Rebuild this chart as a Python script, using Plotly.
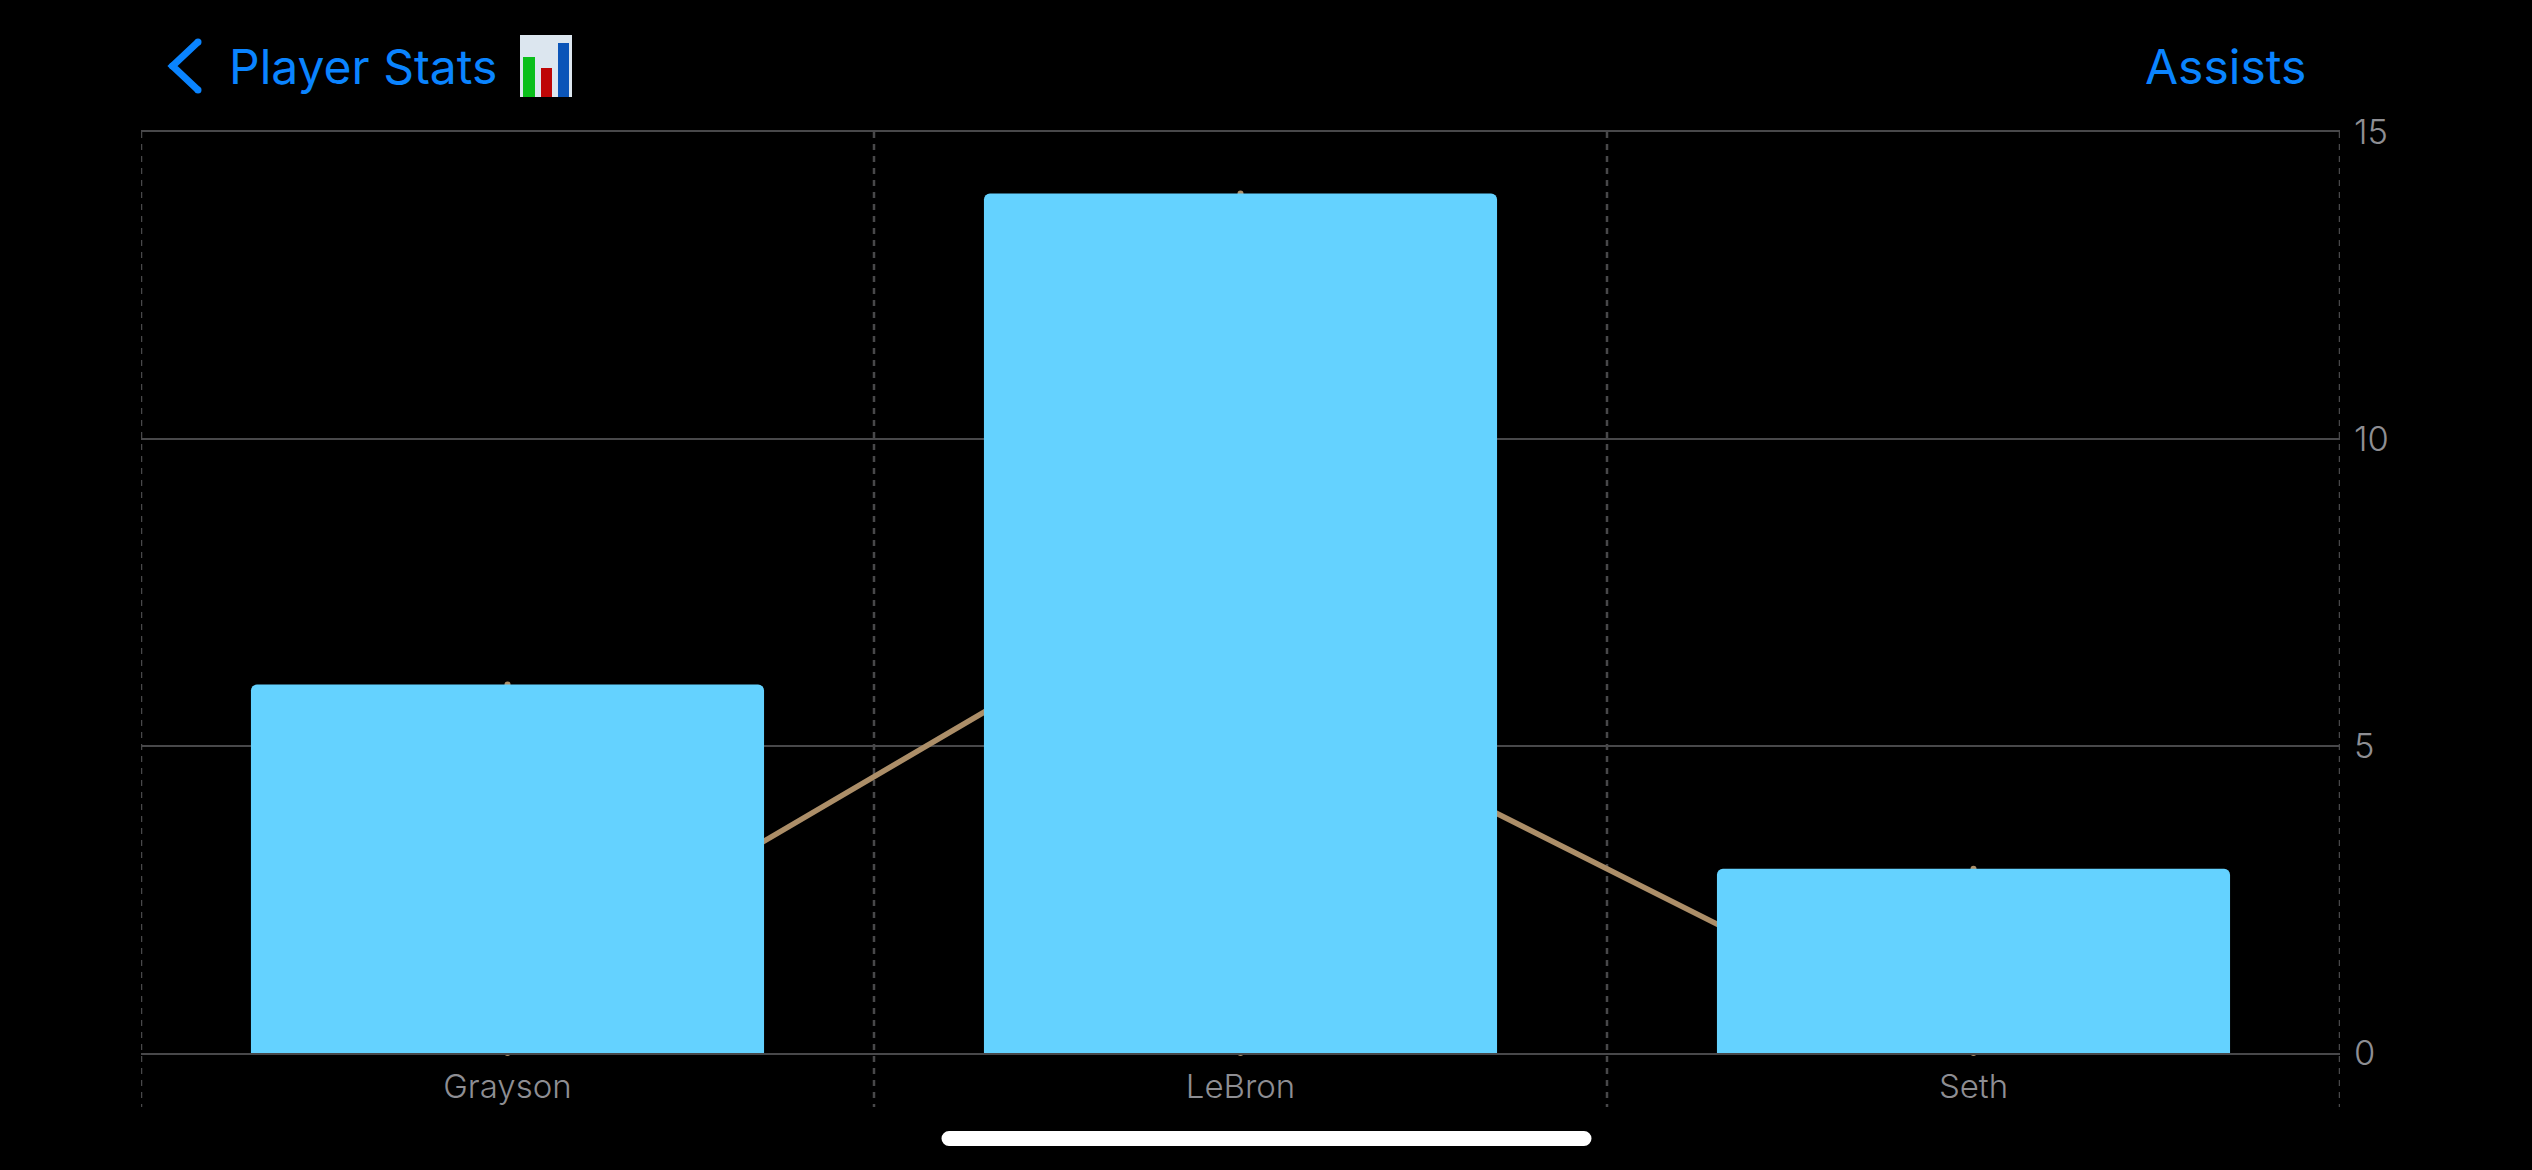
import plotly.graph_objects as go

players = ["Grayson", "LeBron", "Seth"]
assists = [6, 14, 3]
trend_categories = ["Grayson", "LeBron", "LeBron", "Seth"]
trend_values = [1, 8, 6, 0]
y_ticks = [0, 5, 10, 15]

W, H = 2532, 1170
L, R, T, B = 141, 2340, 132, 1053
BLUE, TEAL, BROWN, GRID, GREY = "#0A84FF", "#64D2FF", "#AC8E68", "#48484A", "#8E8E93"
FONT = "Inter"


def px(x):
    return (x - L) / (R - L)


def py(y):
    return (B - y) / (B - T)


def rect(x0, y0, x1, y1, color):
    return dict(type="rect", xref="paper", yref="paper", x0=px(x0), x1=px(x1), y0=py(y0), y1=py(y1),
                fillcolor=color, line_width=0, layer="above")


def dot(x, y, r, color):
    return dict(type="circle", xref="paper", yref="paper", x0=px(x - r), x1=px(x + r), y0=py(y - r), y1=py(y + r),
                fillcolor=color, line_width=0, layer="above")


fig = go.Figure()

# Line and small end marks sit on the lower subplot, so the bars cover them
fig.add_trace(go.Scatter(x=trend_categories, y=trend_values, mode="lines",
                         line=dict(color=BROWN, width=5.5), xaxis="x", yaxis="y", showlegend=False))
fig.add_trace(go.Scatter(x=players + players, y=assists + [0, 0, 0], mode="markers",
                         marker=dict(color=BROWN, size=6), cliponaxis=False,
                         xaxis="x", yaxis="y", showlegend=False))
fig.add_trace(go.Bar(x=players, y=assists, width=0.7, marker=dict(color=TEAL, line_width=0, cornerradius=6),
                     xaxis="x", yaxis="y2", showlegend=False))

shapes = []
for xv in [-0.5, 0.5, 1.5, 2.5]:
    shapes.append(dict(type="line", xref="x", yref="paper", x0=xv, x1=xv, y0=1, y1=py(1107),
                       line=dict(color=GRID, width=2.5, dash="6px,6px"), layer="below"))

# Back chevron
shapes.append(dict(type="path", xref="paper", yref="paper",
                   path=f"M {px(198)} {py(42)} L {px(172.5)} {py(66)} L {px(198)} {py(90)}",
                   line=dict(color=BLUE, width=7), layer="above"))
shapes += [dot(198, 42, 3.5, BLUE), dot(198, 90, 3.5, BLUE), dot(172.5, 66, 3.5, BLUE)]

# Chart icon beside the title
shapes += [rect(520, 35, 572, 97, "#DCE6EF"),
           rect(523, 57, 535, 97, "#0BBF1B"),
           rect(541, 68, 552, 97, "#BE0606"),
           rect(558, 43, 569, 97, "#0B55B8")]

# Home indicator
shapes.append(rect(949, 1131, 1584, 1146, "#FFFFFF"))
shapes += [dot(949, 1138.5, 7.5, "#FFFFFF"), dot(1584, 1138.5, 7.5, "#FFFFFF")]

annotations = [
    dict(text="Player Stats", xref="paper", yref="paper", x=px(227), y=py(67), xanchor="left", yanchor="middle",
         showarrow=False, font=dict(family=FONT, size=48, color=BLUE)),
    dict(text="Assists", xref="paper", yref="paper", x=px(2308), y=py(67), xanchor="right", yanchor="middle",
         showarrow=False, font=dict(family=FONT, size=48, color=BLUE)),
]

axis_y = dict(range=[0, 15], tickvals=y_ticks, fixedrange=True)

fig.update_layout(
    width=W, height=H, autosize=False,
    margin=dict(l=L, r=W - R, t=T, b=H - B, pad=0),
    paper_bgcolor="#000000", plot_bgcolor="#000000",
    font=dict(family=FONT, color=GREY, size=33),
    bargap=0.3,
    xaxis=dict(type="category", categoryorder="array", categoryarray=players, range=[-0.5, 2.5],
               showgrid=False, zeroline=False, showline=True, mirror=True, linecolor=GRID, linewidth=2,
               ticks="", ticklabelstandoff=3,
               tickfont=dict(family=FONT, size=33, color=GREY, weight=300), fixedrange=True),
    yaxis=dict(side="right", showgrid=True, gridcolor=GRID, gridwidth=2, zeroline=False, showline=False,
               ticks="", ticklabelstandoff=13, tickfont=dict(family=FONT, size=34.5, color=GREY, weight=300), **axis_y),
    yaxis2=dict(overlaying="y", side="right", showgrid=False, zeroline=False, showline=False,
                showticklabels=False, ticks="", **axis_y),
    shapes=shapes, annotations=annotations,
)

fig.write_html("out.html", config={"displayModeBar": False},
               post_script="document.body.style.margin='0';document.body.style.background='#000';")
